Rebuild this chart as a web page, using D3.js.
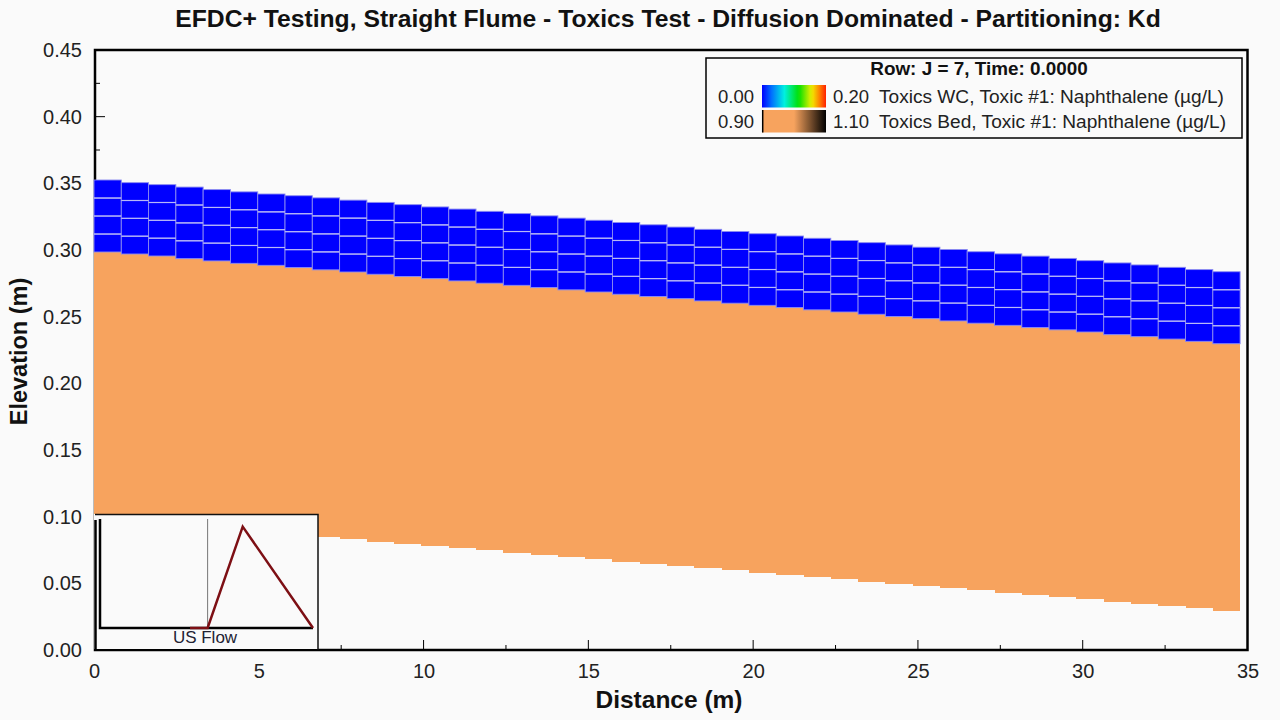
<!DOCTYPE html>
<html>
<head>
<meta charset="utf-8">
<script src="https://cdnjs.cloudflare.com/ajax/libs/d3/7.8.5/d3.min.js"></script>
<style>
    html, body { margin: 0; padding: 0; background: #fafafa; }
    svg { display: block; font-family: "Liberation Sans", Arial, sans-serif; }
</style>
</head>
<body>
<svg id="chart" width="1280" height="720"></svg>
<script>
var titleText = "EFDC+ Testing, Straight Flume - Toxics Test - Diffusion Dominated - Partitioning: Kd";
var xTicks = [0, 5, 10, 15, 20, 25, 30, 35];
var yTicks = [0, 0.05, 0.10, 0.15, 0.20, 0.25, 0.30, 0.35, 0.40, 0.45];
var xMinorTicks = [2.5, 7.5, 12.5, 17.5, 22.5, 27.5, 32.5];
var yMinorTicks = [0.025, 0.075, 0.125, 0.175, 0.225, 0.275, 0.325, 0.375, 0.425];

// one entry per grid column (m)
var waterTop = [0.3525, 0.3505, 0.3490, 0.3472, 0.3453, 0.3436, 0.3420, 0.3407, 0.3391, 0.3374, 0.3357,
    0.3340, 0.3323, 0.3307, 0.3290, 0.3273, 0.3256, 0.3239, 0.3223, 0.3206, 0.3189, 0.3172, 0.3155, 0.3139,
    0.3122, 0.3105, 0.3088, 0.3071, 0.3055, 0.3038, 0.3021, 0.3004, 0.2987, 0.2971, 0.2954, 0.2937, 0.2920,
    0.2903, 0.2888, 0.2870, 0.2853, 0.2837];
var bedTop = [0.2985, 0.2970, 0.2955, 0.2935, 0.2918, 0.2900, 0.2885, 0.2868, 0.2851, 0.2835, 0.2818,
    0.2801, 0.2785, 0.2768, 0.2751, 0.2735, 0.2718, 0.2701, 0.2685, 0.2668, 0.2651, 0.2635, 0.2618, 0.2601,
    0.2585, 0.2568, 0.2551, 0.2535, 0.2518, 0.2501, 0.2485, 0.2468, 0.2451, 0.2435, 0.2418, 0.2401, 0.2385,
    0.2365, 0.2350, 0.2332, 0.2315, 0.2297];
var bedBottom = [0.0980, 0.0963, 0.0947, 0.0930, 0.0913, 0.0897, 0.0880, 0.0863, 0.0845, 0.0830, 0.0813,
    0.0797, 0.0780, 0.0763, 0.0747, 0.0730, 0.0713, 0.0697, 0.0680, 0.0663, 0.0647, 0.0630, 0.0613, 0.0597,
    0.0580, 0.0563, 0.0547, 0.0530, 0.0513, 0.0497, 0.0480, 0.0463, 0.0447, 0.0430, 0.0413, 0.0397, 0.0380,
    0.0360, 0.0345, 0.0330, 0.0315, 0.0293];
var cellLength = 0.828;
var layerCount = 4;
var wcValue = 0.00;
var bedValue = 1.00;

var wcStops = [0, 0.03, 0.07, 0.115, 0.155, 0.18, 0.2];
var wcColors = ["#0000ff", "#0070ff", "#00f0e0", "#00e000", "#f0f000", "#ff8000", "#ff2000"];
var bedStops = [0.90, 1.00, 1.10];
var bedColors = ["#f7a35e", "#f7a35e", "#000000"];

var flowX = [0, 2.81, 3.36, 4.455, 6.65];
var flowY = [0, 0, 0, 0.93, 0];
var flowMarker = 3.36;

var bg = "#fafafa";
var svg = d3.select("#chart");
var margin = { top: 50, right: 32.5, bottom: 70, left: 94 };
var width = 1280 - margin.left - margin.right, height = 720 - margin.top - margin.bottom;
var x = d3.scaleLinear().domain([0, 35]).range([margin.left, margin.left + width]);
var y = d3.scaleLinear().domain([0, 0.45]).range([margin.top + height, margin.top]);
var wcScale = d3.scaleLinear().domain(wcStops).range(wcColors);
var bedScale = d3.scaleLinear().domain(bedStops).range(bedColors);

svg.append("text").attr("x", 668).attr("y", 27).attr("text-anchor", "middle")
    .attr("font-size", 24.7).attr("font-weight", "bold").attr("fill", "#111").text(titleText);

// frame and ticks go under the cells, the grid covers the left axis in the original
svg.append("rect").attr("x", x(0) + 1).attr("y", y(0.45)).attr("width", width - 1).attr("height", height)
    .attr("fill", "none").attr("stroke", "#000").attr("stroke-width", 2.5);

var xAxis = d3.axisBottom(x).tickValues(xTicks).tickFormat(d3.format("d")).tickSize(0).tickPadding(14);
var yAxis = d3.axisLeft(y).tickValues(yTicks).tickFormat(d3.format(".2f")).tickSize(0).tickPadding(12);
var gx = svg.append("g").attr("transform", "translate(0," + y(0) + ")").call(xAxis);
var gy = svg.append("g").attr("transform", "translate(" + x(0) + ",0)").call(yAxis);
[gx, gy].forEach(function (g) {
    g.select(".domain").remove();
    g.selectAll("text").attr("font-size", 20).attr("fill", "#222")
        .attr("font-family", "'Liberation Sans', Arial, sans-serif");
});
svg.append("g").selectAll("line").data(xTicks.slice(1, -1)).enter().append("line")
    .attr("x1", x).attr("x2", x).attr("y1", y(0)).attr("y2", y(0) - 10).attr("stroke", "#000").attr("stroke-width", 1);
svg.append("g").selectAll("line").data(xMinorTicks).enter().append("line")
    .attr("x1", x).attr("x2", x).attr("y1", y(0)).attr("y2", y(0) - 5).attr("stroke", "#000").attr("stroke-width", 1);
svg.append("g").selectAll("line").data(yTicks.slice(1, -1)).enter().append("line")
    .attr("y1", y).attr("y2", y).attr("x1", x(0) + 1).attr("x2", x(0) + 11).attr("stroke", "#000").attr("stroke-width", 1);
svg.append("g").selectAll("line").data(yMinorTicks).enter().append("line")
    .attr("y1", y).attr("y2", y).attr("x1", x(0) + 1).attr("x2", x(0) + 6).attr("stroke", "#000").attr("stroke-width", 1);

// bed columns
svg.append("g").attr("shape-rendering", "crispEdges")
    .selectAll("rect").data(d3.range(waterTop.length)).enter().append("rect")
    .attr("x", function (i) { return x(i * cellLength); })
    .attr("width", x(cellLength) - x(0))
    .attr("y", function (i) { return y(bedTop[i]); })
    .attr("height", function (i) { return y(bedBottom[i]) - y(bedTop[i]); })
    .attr("fill", bedScale(bedValue));

// water column cells
var cells = [];
waterTop.forEach(function (t, i) {
    var dz = (t - bedTop[i]) / layerCount;
    d3.range(layerCount).forEach(function (k) {
        cells.push({ i: i, z0: bedTop[i] + k * dz, z1: bedTop[i] + (k + 1) * dz });
    });
});
var cellG = svg.append("g");
cellG.selectAll("rect").data(cells).enter().append("rect")
    .attr("x", function (d) { return x(d.i * cellLength); })
    .attr("width", x(cellLength) - x(0))
    .attr("y", function (d) { return y(d.z1); })
    .attr("height", function (d) { return y(d.z0) - y(d.z1); })
    .attr("fill", wcScale(wcValue))
    .attr("stroke", "#8c8cf0").attr("stroke-width", 0.9);
cellG.selectAll("line").data(cells.filter(function (d) { return d.z0 > bedTop[d.i]; })).enter().append("line")
    .attr("x1", function (d) { return x(d.i * cellLength); })
    .attr("x2", function (d) { return x((d.i + 1) * cellLength); })
    .attr("y1", function (d) { return y(d.z0); })
    .attr("y2", function (d) { return y(d.z0); })
    .attr("stroke", "#b8b8f8").attr("stroke-width", 1.2);

svg.append("text").attr("x", 669).attr("y", 708).attr("text-anchor", "middle")
    .attr("font-size", 24.5).attr("font-weight", "bold").attr("fill", "#111").text("Distance (m)");
svg.append("text").attr("transform", "translate(27,351.5) rotate(-90)").attr("text-anchor", "middle")
    .attr("font-size", 23.5).attr("font-weight", "bold").attr("fill", "#111").text("Elevation (m)");

// legend
var defs = svg.append("defs");
function addGradient(id, scale, stops) {
    var g = defs.append("linearGradient").attr("id", id);
    var ext = d3.extent(stops);
    d3.range(0, 1.001, 0.05).forEach(function (t) {
        g.append("stop").attr("offset", t).attr("stop-color", scale(ext[0] + t * (ext[1] - ext[0])));
    });
}
addGradient("wcGrad", wcScale, wcStops);
addGradient("bedGrad", bedScale, bedStops);

var legend = svg.append("g");
legend.append("rect").attr("x", 706).attr("y", 58).attr("width", 536).attr("height", 80)
    .attr("fill", bg).attr("stroke", "#000").attr("stroke-width", 1.5);
legend.append("text").attr("x", 979).attr("y", 75).attr("text-anchor", "middle")
    .attr("font-size", 18.9).attr("font-weight", "bold").attr("fill", "#111").text("Row: J = 7, Time: 0.0000");
var legendRows = [
    { lo: "0.00", hi: "0.20", name: "Toxics WC, Toxic #1: Naphthalene (µg/L)", grad: "wcGrad", top: 85 },
    { lo: "0.90", hi: "1.10", name: "Toxics Bed, Toxic #1: Naphthalene (µg/L)", grad: "bedGrad", top: 110 }
];
legendRows.forEach(function (r) {
    legend.append("text").attr("x", 754).attr("y", r.top + 17.5).attr("text-anchor", "end")
        .attr("font-size", 18.5).attr("fill", "#222").text(r.lo);
    legend.append("rect").attr("x", 762).attr("y", r.top).attr("width", 64).attr("height", 22.5)
        .attr("fill", "url(#" + r.grad + ")");
    legend.append("text").attr("x", 833).attr("y", r.top + 17.5)
        .attr("font-size", 18.5).attr("fill", "#222").text(r.hi);
    legend.append("text").attr("x", 879).attr("y", r.top + 17.5)
        .attr("font-size", 19.1).attr("fill", "#222").text(r.name);
});
legend.append("line").attr("x1", 762.7).attr("x2", 762.7).attr("y1", 110).attr("y2", 132.5).attr("stroke", "#000").attr("stroke-width", 1.5);

// inset flow plot
var inset = svg.append("g");
inset.append("rect").attr("x", 94).attr("y", 514).attr("width", 224).attr("height", 135)
    .attr("fill", bg);
inset.append("path").attr("d", "M95.5,650V520").attr("fill", "none").attr("stroke", "#000").attr("stroke-width", 2.5);
inset.append("path").attr("d", "M95,514.5H318V650").attr("fill", "none").attr("stroke", "#111").attr("stroke-width", 1.5);
var fx = d3.scaleLinear().domain([0, 6.65]).range([100, 313]);
var fy = d3.scaleLinear().domain([0, 1]).range([628, 519]);
inset.append("line").attr("x1", fx(flowMarker)).attr("x2", fx(flowMarker)).attr("y1", 519).attr("y2", 628)
    .attr("stroke", "#777").attr("stroke-width", 1);
inset.append("path").attr("d", "M" + fx(0) + ",519V628H" + fx(6.65)).attr("fill", "none")
    .attr("stroke", "#000").attr("stroke-width", 2.5);
inset.append("path").datum(d3.range(flowX.length).slice(1))
    .attr("d", d3.line().x(function (i) { return fx(flowX[i]); }).y(function (i) { return fy(flowY[i]); }))
    .attr("fill", "none").attr("stroke", "#7d0f14").attr("stroke-width", 2.5);
inset.append("text").attr("x", 205).attr("y", 643).attr("text-anchor", "middle")
    .attr("font-size", 17).attr("fill", "#223").text("US Flow");
</script>
</body>
</html>
